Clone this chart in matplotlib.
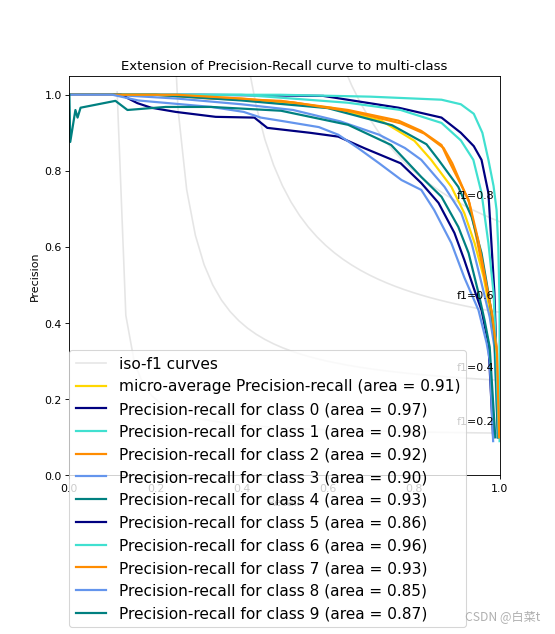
import numpy as np
from matplotlib import pyplot as plt

# values
areas = [0.97, 0.98, 0.92, 0.90, 0.93, 0.86, 0.96, 0.93, 0.85, 0.87]
micro_area = 0.91
colors = ["navy", "turquoise", "darkorange", "cornflowerblue", "teal"]

micro_recall = [0, 0.2, 0.4, 0.608, 0.725, 0.802, 0.841, 0.888, 0.918, 0.942, 0.963, 0.977, 0.988, 0.996, 1.0]
micro_precision = [1.0, 1.0, 0.99, 0.966, 0.932, 0.879, 0.829, 0.758, 0.689, 0.61, 0.521, 0.434, 0.347, 0.2, 0.1]

recall_0 = [0, 0.3, 0.59, 0.765, 0.865, 0.91, 0.94, 0.958, 0.974, 0.981, 0.988, 0.993, 0.997]
precision_0 = [1.0, 1.0, 0.997, 0.966, 0.94, 0.90, 0.865, 0.829, 0.742, 0.61, 0.479, 0.3, 0.1]

recall_1 = [0, 0.49, 0.7, 0.865, 0.91, 0.94, 0.96, 0.974, 0.986, 0.993, 0.997, 1.0, 1.0]
precision_1 = [1.0, 1.0, 0.995, 0.987, 0.975, 0.95, 0.9, 0.829, 0.76, 0.697, 0.6, 0.45, 0.09]

recall_2 = [0, 0.2, 0.33, 0.492, 0.648, 0.765, 0.818, 0.865, 0.881, 0.928, 0.946, 0.965, 0.981, 0.993, 0.998]
precision_2 = [1.0, 1.0, 0.99, 0.984, 0.96, 0.932, 0.905, 0.868, 0.829, 0.724, 0.626, 0.521, 0.434, 0.337, 0.12]

recall_3 = [0, 0.1, 0.25, 0.4, 0.52, 0.63, 0.72, 0.78, 0.818, 0.872, 0.911, 0.935, 0.958, 0.977, 0.988, 0.996]
precision_3 = [1.0, 1.0, 0.99, 0.975, 0.96, 0.93, 0.895, 0.86, 0.829, 0.758, 0.689, 0.61, 0.505, 0.416, 0.337, 0.1]

recall_4 = [0, 0.2, 0.4, 0.6, 0.75, 0.83, 0.858, 0.904, 0.935, 0.958, 0.974, 0.988, 0.996]
precision_4 = [1.0, 1.0, 0.985, 0.965, 0.92, 0.87, 0.829, 0.758, 0.679, 0.584, 0.479, 0.374, 0.1]

recall_5 = [0, 0.12, 0.158, 0.19, 0.247, 0.34, 0.43, 0.46, 0.56, 0.625, 0.685, 0.77, 0.818, 0.858, 0.895,
            0.918, 0.939, 0.958, 0.974, 0.985]
precision_5 = [1.0, 1.0, 0.978, 0.966, 0.955, 0.942, 0.94, 0.913, 0.9, 0.89, 0.86, 0.82, 0.768, 0.716, 0.637,
               0.566, 0.495, 0.434, 0.347, 0.1]

recall_6 = [0, 0.4, 0.648, 0.77, 0.865, 0.91, 0.939, 0.958, 0.974, 0.986, 0.993, 0.998]
precision_6 = [1.0, 1.0, 0.979, 0.96, 0.926, 0.88, 0.829, 0.742, 0.61, 0.479, 0.3, 0.1]

recall_7 = [0, 0.25, 0.4, 0.52, 0.66, 0.77, 0.825, 0.87, 0.89, 0.93, 0.95, 0.968, 0.983, 0.994, 0.999]
precision_7 = [1.0, 1.0, 0.99, 0.98, 0.955, 0.925, 0.898, 0.86, 0.82, 0.715, 0.62, 0.51, 0.42, 0.32, 0.10]

recall_8 = [0, 0.1, 0.16, 0.33, 0.405, 0.445, 0.5, 0.58, 0.625, 0.671, 0.72, 0.772, 0.818, 0.848, 0.888,
            0.918, 0.951, 0.97, 0.977, 0.985]
precision_8 = [1.0, 1.0, 0.985, 0.968, 0.955, 0.94, 0.93, 0.915, 0.895, 0.86, 0.82, 0.776, 0.75, 0.697, 0.61,
               0.52, 0.434, 0.347, 0.303, 0.09]

recall_9 = [0, 0.002, 0.014, 0.019, 0.026, 0.107, 0.135, 0.224, 0.33, 0.492, 0.648, 0.748, 0.818, 0.865,
            0.904, 0.928, 0.951, 0.965, 0.977, 0.99]
precision_9 = [1.0, 0.876, 0.96, 0.94, 0.966, 0.984, 0.96, 0.968, 0.968, 0.958, 0.921, 0.868, 0.784, 0.732,
               0.653, 0.584, 0.479, 0.408, 0.337, 0.1]

recalls = [recall_0, recall_1, recall_2, recall_3, recall_4, recall_5, recall_6, recall_7, recall_8, recall_9]
precisions = [precision_0, precision_1, precision_2, precision_3, precision_4,
              precision_5, precision_6, precision_7, precision_8, precision_9]

f_scores = [0.2, 0.4, 0.6, 0.8]

# the picture is a 7x8 inch figure shrunk to 555x634
fig = plt.figure(figsize=(7, 8), dpi=79.3)
fig.subplots_adjust(bottom=0.25)
ax = fig.add_subplot(111)

lines = []
labels = []

# iso-f1 curves
for f_score in f_scores:
    x = np.linspace(0.01, 1)
    y = f_score * x / (2 * x - f_score)
    l, = ax.plot(x[y >= 0], y[y >= 0], color="gray", alpha=0.2)
    ax.annotate("f1={0:0.1f}".format(f_score), xy=(0.9, y[45] + 0.02))
lines.append(l)
labels.append("iso-f1 curves")

l, = ax.plot(micro_recall, micro_precision, color="gold", lw=2)
lines.append(l)
labels.append("micro-average Precision-recall (area = {0:0.2f})".format(micro_area))

for i in range(10):
    l, = ax.plot(recalls[i], precisions[i], color=colors[i % 5], lw=2)
    lines.append(l)
    labels.append("Precision-recall for class {0} (area = {1:0.2f})".format(i, areas[i]))

ax.set_xlim([0.0, 1.0])
ax.set_ylim([0.0, 1.05])
ax.set_xlabel("Recall")
ax.set_ylabel("Precision")
ax.set_title("Extension of Precision-Recall curve to multi-class")
ax.legend(lines, labels, loc=(0, -.38), prop=dict(size=14))

fig.text(0.973, 0.022, "CSDN @白菜t", ha="right", color="#b0b0b0", fontsize=11,
         family=["Noto Sans CJK SC", "DejaVu Sans"])

fig.savefig("out.png")
